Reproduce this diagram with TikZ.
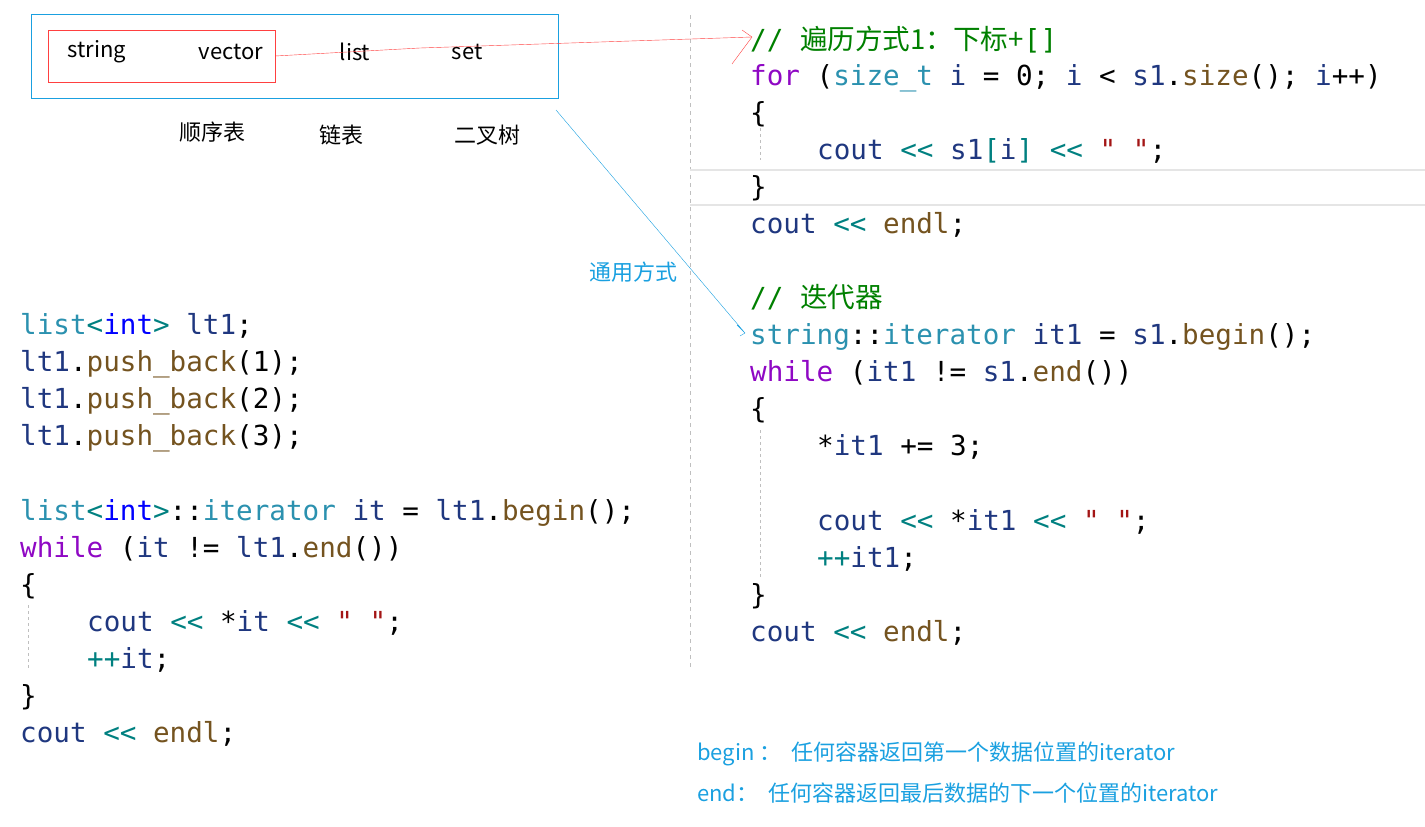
\documentclass[tikz,border=0pt]{standalone}
\usepackage{fontspec}
\setmainfont{Noto Sans CJK SC}
\newfontfamily\cjk{Noto Sans CJK SC}
\newfontfamily\codef{DejaVu Sans Mono}
\definecolor{kw}{HTML}{8F08C4}
\definecolor{ty}{HTML}{0000FF}
\definecolor{cl}{HTML}{2B91AF}
\definecolor{fn}{HTML}{74531F}
\definecolor{va}{HTML}{1F377F}
\definecolor{op}{HTML}{008080}
\definecolor{cm}{HTML}{008000}
\definecolor{st}{HTML}{A31515}
\definecolor{nt}{HTML}{1AA0E0}
\newcommand{\K}[1]{\textcolor{kw}{#1}}
\newcommand{\T}[1]{\textcolor{ty}{#1}}
\newcommand{\C}[1]{\textcolor{cl}{#1}}
\newcommand{\F}[1]{\textcolor{fn}{#1}}
\newcommand{\V}[1]{\textcolor{va}{#1}}
\newcommand{\Op}[1]{\textcolor{op}{#1}}
\newcommand{\Cm}[1]{\textcolor{cm}{#1}}
\newcommand{\St}[1]{\textcolor{st}{#1}}
\begin{document}
\begin{tikzpicture}[x=1pt,y=-1pt,
  code/.style={anchor=base west,inner sep=0,font=\codef\fontsize{27.6}{30}\selectfont},
  lab/.style={inner sep=0,font=\fontsize{22}{26}\selectfont},
  note/.style={anchor=base west,inner sep=0,text=nt,font=\fontsize{22}{26}\selectfont}]
\useasboundingbox (0,0) rectangle (1425,827);
% separators
\draw[gray!50,dash pattern=on 4pt off 4pt] (690,15) -- (690,668);
\draw[gray!20,line width=2pt] (690,170) -- (1425,170) (690,205) -- (1425,205);
\draw[gray!50,dash pattern=on 3pt off 3pt] (760,128) -- (760,160) (760,430) -- (760,578) (28,605) -- (28,670);
% box
\node[draw=nt,minimum width=527,minimum height=84,inner sep=0] (box) at (294.5,56) {};
\node[draw=red!75,minimum width=227,minimum height=52,inner sep=0] (rbox) at (161.5,56) {};
\node[lab] (s1) at (97,52) {string};
\node[lab] (s2) at (231,52) {vector};
\node[lab] (s3) at (355,52) {list};
\node[lab] (s4) at (467,52) {set};
\node[lab] (c1) at (212,132) {顺序表};
\node[lab] (c2) at (341,135) {链表};
\node[lab] (c3) at (487,135) {二叉树};
\node[lab,text=nt] (ty) at (633,272) {通用方式};
% left code
\node[code] (a1) at (20,334) {\C{list}\Op{<}\T{int}\Op{>} \V{lt1};};
\node[code] (a2) at (20,371) {\V{lt1}.\F{push\_back}(1);};
\node[code] (a3) at (20,408) {\V{lt1}.\F{push\_back}(2);};
\node[code] (a4) at (20,445) {\V{lt1}.\F{push\_back}(3);};
\node[code] (a5) at (20,520) {\C{list}\Op{<}\T{int}\Op{>}::\C{iterator} \V{it} = \V{lt1}.\F{begin}();};
\node[code] (a6) at (20,557) {\K{while} (\V{it} != \V{lt1}.\F{end}())};
\node[code] (a7) at (20,594) {\{};
\node[code] (a8) at (87,631) {\V{cout} \Op{<<} *\V{it} \Op{<<} \St{" "};};
\node[code] (a9) at (87,668) {\Op{++}\V{it};};
\node[code] (a10) at (20,705) {\}};
\node[code] (a11) at (20,742) {\V{cout} \Op{<<} \F{endl};};
% right code
\node[code] (b1) at (750,49) {\Cm{// {\cjk 遍历方式1：下标+}[]}};
\node[code] (b2) at (750,85) {\K{for} (\C{size\_t} \V{i} = 0; \V{i} < \V{s1}.\F{size}(); \V{i}++)};
\node[code] (b3) at (750,122) {\{};
\node[code] (b4) at (817,159) {\V{cout} \Op{<<} \V{s1}\Op{[}\V{i}\Op{]} \Op{<<} \St{" "};};
\node[code] (b5) at (750,196) {\}};
\node[code] (b6) at (750,233) {\V{cout} \Op{<<} \F{endl};};
\node[code] (b7) at (750,307) {\Cm{// {\cjk 迭代器}}};
\node[code] (b8) at (750,344) {\C{string}::\C{iterator} \V{it1} = \V{s1}.\F{begin}();};
\node[code] (b9) at (750,381) {\K{while} (\V{it1} != \V{s1}.\F{end}())};
\node[code] (b10) at (750,418) {\{};
\node[code] (b11) at (817,455) {*\V{it1} += 3;};
\node[code] (b12) at (817,530) {\V{cout} \Op{<<} *\V{it1} \Op{<<} \St{" "};};
\node[code] (b13) at (817,567) {\Op{++}\V{it1};};
\node[code] (b14) at (750,604) {\}};
\node[code] (b15) at (750,641) {\V{cout} \Op{<<} \F{endl};};
% notes
\node[note] (n1) at (697,760) {begin ：\ \ 任何容器返回第一个数据位置的iterator};
\node[note] (n2) at (697,801) {end：\ \ 任何容器返回最后数据的下一个位置的iterator};
% connectors
\coordinate (rt) at (752,37);
\coordinate (bt) at (745,333);
\draw[red!75] (rbox.east) -- (420,48) -- (600,42) -- (rt);
\draw[red!75] (rt) -- (742,30) (rt) -- (732,64);
\draw[nt] (556,110) -- (bt) -- (737,325);
\draw[nt] (bt) -- (740,336);
\end{tikzpicture}
\end{document}
